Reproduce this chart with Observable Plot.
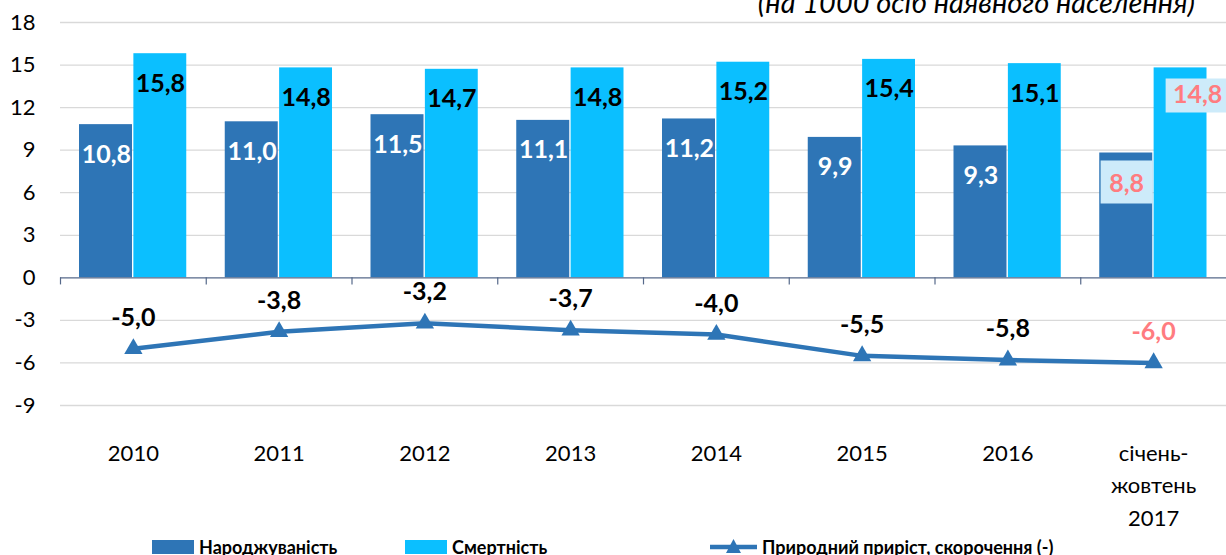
<!DOCTYPE html>
<html>
<head>
<meta charset="utf-8">
<script src="https://cdn.jsdelivr.net/npm/d3@7"></script>
<script src="https://cdn.jsdelivr.net/npm/@observablehq/plot@0.6"></script>
<style>
  html, body { margin: 0; padding: 0; background: #fff; overflow: hidden; }
  #wrap { position: relative; width: 1226px; height: 555px; overflow: hidden; font-family: Lato, "Open Sans", sans-serif; }
  #title { position: absolute; right: 31px; top: -13px; font-size: 29px; font-style: italic; line-height: 1; color: #000; white-space: nowrap; }
  .leg { position: absolute; top: 536px; height: 22px; display: flex; align-items: center; font-size: 18px; font-weight: bold; white-space: nowrap; color: #000; }
  .leg svg { margin-right: 5px; }
  #chart { position: absolute; left: 0; top: 0; }
</style>
</head>
<body>
<div id="wrap">
  <div id="chart"></div>
  <div id="title">(на 1000 осіб наявного населення)</div>
  <div id="legend"></div>
</div>
<script>
// ---- data ----
const categories = ["2010", "2011", "2012", "2013", "2014", "2015", "2016", "січень-\nжовтень\n2017"];
const births = [10.8, 11.0, 11.5, 11.1, 11.2, 9.9, 9.3, 8.8];
const deaths = [15.8, 14.8, 14.7, 14.8, 15.2, 15.4, 15.1, 14.8];
const naturalChange = [-5.0, -3.8, -3.2, -3.7, -4.0, -5.5, -5.8, -6.0];
const yTicks = [-9, -6, -3, 0, 3, 6, 9, 12, 15, 18];
const seriesNames = ["Народжуваність", "Смертність", "Природний приріст, скорочення (-)"];

// ---- styles ----
const cBirth = "#2E75B6";
const cDeath = "#0BBFFF";
const cHighlight = "#FF7C80";
const cBox = "#CDEBFA";
const cAxis = "#56698A";

const rows = categories.map((c, i) => ({cat: c, birth: births[i], death: deaths[i], nat: naturalChange[i], last: i === categories.length - 1}));
const fmt = v => v.toFixed(1).replace(".", ",");
const rectSymbol = (w, h) => ({draw(ctx) { ctx.rect(-w / 2, -h / 2, w, h); }});

const W = 1226, H = 555;
const step = (W - 60) / categories.length;

const regular = rows.filter(d => !d.last);
const lastRows = rows.filter(d => d.last);

const plot = Plot.plot({
  width: W,
  height: H,
  marginLeft: 60,
  marginRight: 0,
  marginTop: 22,
  marginBottom: 150,
  style: {fontFamily: "Lato, 'Open Sans', sans-serif", fontSize: "22px", color: "#000", background: "#fff"},
  x: {type: "band", domain: categories, padding: 0, round: false},
  y: {domain: [-9, 18]},
  marks: [
    Plot.gridY(yTicks.filter(t => t !== 0), {stroke: "#D9D9D9", strokeOpacity: 1, strokeWidth: 1.3}),
    Plot.axisY(yTicks, {tickSize: 0, tickPadding: 25, tickFormat: d => String(d), fontSize: 22, label: null}),
    Plot.axisX({anchor: "bottom", tickSize: 0, tickPadding: 32, lineHeight: 1.48, fontSize: 22, label: null}),
    Plot.barY(rows, {x: "cat", y: "birth", fill: cBirth, insetLeft: 19, insetRight: step - 72}),
    Plot.barY(rows, {x: "cat", y: "death", fill: cDeath, insetLeft: step / 2 + 0.5, insetRight: 19.5}),
    Plot.ruleY([0], {stroke: cAxis, strokeWidth: 1.2}),
    Plot.ruleX(categories, {x: d => d, y1: 0, y2: -0.5, dx: -step / 2, stroke: cAxis, strokeWidth: 1.2}),
    // bar labels
    Plot.text(regular, {x: "cat", y: "birth", text: d => fmt(d.birth), dx: -27, dy: 30, fill: "#fff", fontWeight: "bold", fontSize: 25}),
    Plot.text(regular, {x: "cat", y: "death", text: d => fmt(d.death), dx: 27, dy: 30, fill: "#000", fontWeight: "bold", fontSize: 25}),
    // highlighted labels (last period)
    Plot.dot(lastRows, {x: "cat", y: "birth", dx: -27, dy: 29, symbol: rectSymbol(52, 43), fill: cBox, stroke: "none", r: 1}),
    Plot.text(lastRows, {x: "cat", y: "birth", text: d => fmt(d.birth), dx: -27, dy: 31, fill: cHighlight, fontWeight: "bold", fontSize: 25}),
    Plot.dot(lastRows, {x: "cat", y: "death", dx: 44, dy: 27.5, symbol: rectSymbol(64, 34), fill: cBox, stroke: "none", r: 1}),
    Plot.text(lastRows, {x: "cat", y: "death", text: d => fmt(d.death), dx: 44, dy: 27.5, fill: cHighlight, fontWeight: "bold", fontSize: 25}),
    // natural change line
    Plot.line(rows, {x: "cat", y: "nat", stroke: cBirth, strokeWidth: 4.5}),
    Plot.dot(rows, {x: "cat", y: "nat", symbol: "triangle", r: 6.8, fill: cBirth, stroke: "none"}),
    Plot.text(rows, {x: "cat", y: "nat", text: d => fmt(d.nat), dy: -31, fill: d => d.last ? cHighlight : "#000", fontWeight: "bold", fontSize: 25})
  ]
});
document.getElementById("chart").appendChild(plot);

// ---- legend ----
const legend = document.getElementById("legend");
const legendItems = [
  {name: seriesNames[0], left: 152, type: "rect", color: cBirth},
  {name: seriesNames[1], left: 405, type: "rect", color: cDeath},
  {name: seriesNames[2], left: 710, type: "line", color: cBirth}
];
for (const it of legendItems) {
  const div = document.createElement("div");
  div.className = "leg";
  div.style.left = it.left + "px";
  let sw;
  if (it.type === "rect") {
    sw = `<svg width="42" height="14"><rect width="42" height="14" fill="${it.color}"/></svg>`;
  } else {
    sw = `<svg width="47" height="18"><line x1="0" x2="47" y1="9" y2="9" stroke="${it.color}" stroke-width="4.5"/><path d="M23.5,1 L31,15 L16,15 Z" fill="${it.color}"/></svg>`;
  }
  div.innerHTML = sw + `<span>${it.name}</span>`;
  legend.appendChild(div);
}
</script>
</body>
</html>
